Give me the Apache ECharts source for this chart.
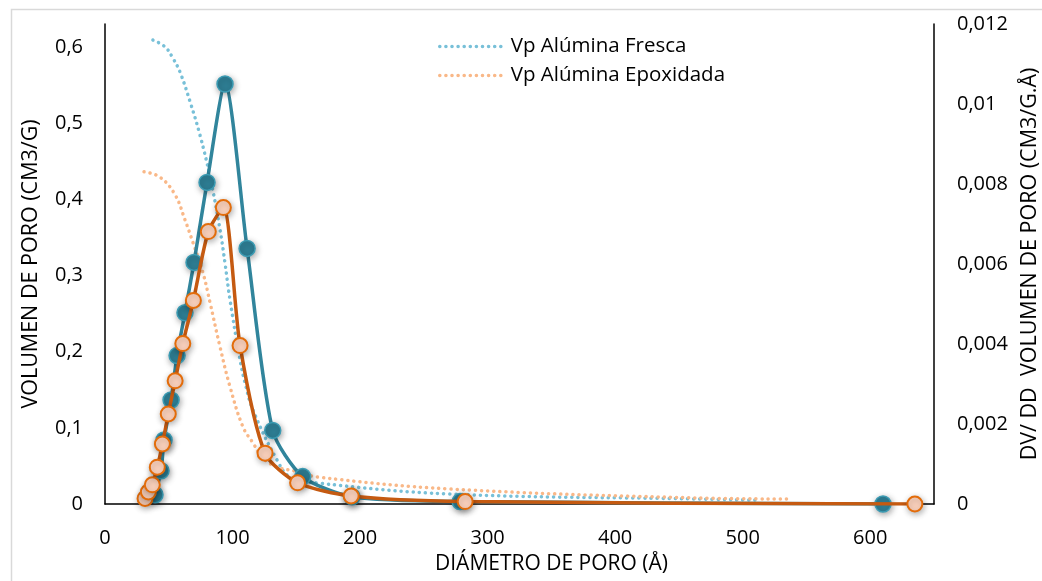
<!DOCTYPE html>
<html>
<head>
<meta charset="utf-8">
<script src="https://cdn.jsdelivr.net/npm/echarts@6/dist/echarts.min.js"></script>
<style>
html,body{margin:0;padding:0;background:#fff;overflow:hidden;width:1042px;height:581px;}
#chart{width:1042px;height:581px;}
</style>
</head>
<body>
<div id="chart"></div>
<script>
// ---- Data ----
const seriesNames = ['Vp Alúmina Fresca', 'Vp Alúmina Epoxidada'];

// Cumulative pore volume (left axis, cm3/g) – dotted curves
const freshVpDiam = [37.6, 47.1, 53.3, 58.8, 66.7, 74.5, 82.4, 90.2, 94.1, 98.0, 105.9, 109.8, 116.1, 134.9, 145.1, 166.3, 270.6, 464, 510];
const freshVp     = [0.609, 0.600, 0.585, 0.567, 0.528, 0.484, 0.429, 0.360, 0.316, 0.268, 0.189, 0.159, 0.123, 0.0577, 0.0354, 0.0276, 0.0131, 0.0066, 0.0052];

const epoxVpDiam = [30.6, 43.1, 54.9, 62.7, 69.0, 76.9, 82.4, 90.2, 98.0, 108.2, 116.1, 123.1, 134.9, 152.9, 166.3, 270.6, 464, 535];
const epoxVp     = [0.436, 0.429, 0.406, 0.373, 0.343, 0.303, 0.264, 0.206, 0.154, 0.101, 0.080, 0.0617, 0.0486, 0.042, 0.0354, 0.0197, 0.0079, 0.0066];

// dV/dD (right axis, cm3/g.Å) – solid curves with markers
const freshDvDiam = [39.2, 43.9, 46.3, 51.8, 56.5, 62.7, 69.8, 80.0, 94.1, 111.4, 131.5, 155.0, 193.7, 278.4, 610];
const freshDvdd   = [0.00023, 0.00083, 0.0016, 0.0026, 0.00371, 0.00478, 0.00604, 0.00804, 0.0105, 0.00639, 0.00184, 0.000685, 0.00018, 0.00006, 0];

const epoxDvDiam = [31.4, 34.0, 37.1, 41.0, 45.0, 49.6, 55.0, 61.0, 69.3, 81.0, 92.8, 105.9, 125.5, 151.0, 193.0, 282.4, 635];
const epoxDvdd   = [0.00014, 0.0003, 0.00048, 0.00092, 0.0015, 0.00225, 0.00308, 0.00401, 0.00509, 0.00681, 0.00741, 0.00396, 0.00127, 0.00053, 0.0002, 0.00006, 0];

// Axis ranges / ticks
const xTicks = [0, 100, 200, 300, 400, 500, 600];
const leftTicks = [0, 0.1, 0.2, 0.3, 0.4, 0.5, 0.6];
const rightTicks = [0, 0.002, 0.004, 0.006, 0.008, 0.01, 0.012];

const zip = (xs, ys) => xs.map((x, i) => [x, ys[i]]);
const fmt = v => String(Number(Number(v).toFixed(6))).replace('.', ',');

const FONT = 'Open Sans';
const TEAL_DOT = '#78C0D8';
const ORANGE_DOT = '#F9B888';
const chart = echarts.init(document.getElementById('chart'), null, {renderer: 'canvas', width: 1042, height: 581});

const option = {
  backgroundColor: '#ffffff',
  animation: false,
  graphic: [{
    type: 'rect', left: 9, top: 7, z: -10,
    shape: {width: 1040, height: 585},
    style: {fill: 'none', stroke: '#d9d9d9', lineWidth: 1.5}
  }],
  grid: {left: 105, right: 108, top: 24, bottom: 77, containLabel: false, outerBoundsMode: 'none'},
  legend: {
    orient: 'vertical', left: 433, top: 31,
    itemWidth: 66, itemHeight: 20, itemGap: 8,
    data: seriesNames,
    itemStyle: {opacity: 0},
    lineStyle: {width: 3.5, type: [0.1, 6], cap: 'round'},
    textStyle: {fontFamily: FONT, fontSize: 20.5, color: '#000'}
  },
  xAxis: {
    type: 'value', min: 0, max: 650, interval: 100,
    name: 'DIÁMETRO DE PORO (Å)', nameLocation: 'middle', nameGap: 50,
    nameTextStyle: {fontFamily: FONT, fontSize: 21, color: '#000', padding: [0, 0, 0, 64]},
    axisLine: {show: true, onZero: false, lineStyle: {color: '#000', width: 1.5}},
    axisTick: {show: false},
    splitLine: {show: false},
    axisLabel: {
      fontFamily: FONT, fontSize: 20, color: '#000', margin: 24,
      formatter: v => xTicks.includes(v) ? fmt(v) : ''
    }
  },
  yAxis: [{
    type: 'value', min: 0, max: 0.63, interval: 0.1,
    name: 'VOLUMEN DE PORO (CM3/G)', nameLocation: 'middle', nameGap: 63, nameRotate: 90,
    nameTextStyle: {fontFamily: FONT, fontSize: 21.5, color: '#000'},
    axisLine: {show: true, lineStyle: {color: '#000', width: 1.5}},
    axisTick: {show: false},
    splitLine: {show: false},
    axisLabel: {
      fontFamily: FONT, fontSize: 20, color: '#000', margin: 22,
      formatter: v => leftTicks.some(t => Math.abs(t - v) < 1e-9) ? fmt(v) : ''
    }
  }, {
    type: 'value', min: 0, max: 0.012, interval: 0.002, position: 'right',
    name: 'DV/ DD  VOLUMEN DE PORO (CM3/G.Å)', nameLocation: 'middle', nameGap: 81, nameRotate: 90,
    nameTextStyle: {fontFamily: FONT, fontSize: 21.5, color: '#000'},
    axisLine: {show: true, lineStyle: {color: '#000', width: 1.5}},
    axisTick: {show: false},
    splitLine: {show: false},
    axisLabel: {
      fontFamily: FONT, fontSize: 20, color: '#000', margin: 23,
      formatter: v => rightTicks.some(t => Math.abs(t - v) < 1e-9) ? fmt(v) : ''
    }
  }],
  series: [{
    name: seriesNames[0], type: 'line', yAxisIndex: 0, smooth: 0.4,
    data: zip(freshVpDiam, freshVp), symbol: 'none', z: 1,
    itemStyle: {color: TEAL_DOT},
    lineStyle: {color: TEAL_DOT, width: 3.5, type: [0.1, 6], cap: 'round'}
  }, {
    name: seriesNames[1], type: 'line', yAxisIndex: 0, smooth: 0.4,
    data: zip(epoxVpDiam, epoxVp), symbol: 'none', z: 1,
    itemStyle: {color: ORANGE_DOT},
    lineStyle: {color: ORANGE_DOT, width: 3.5, type: [0.1, 6], cap: 'round'}
  }, {
    name: 'dV/dD Fresca', type: 'line', yAxisIndex: 1, smooth: 0.25,
    data: zip(freshDvDiam, freshDvdd), z: 3,
    symbol: 'circle', symbolSize: 16,
    lineStyle: {color: '#31859C', width: 3.5},
    itemStyle: {color: '#2E7E94', borderColor: '#3B9BB3', borderWidth: 1.5,
      shadowBlur: 6, shadowColor: 'rgba(0,0,0,0.35)', shadowOffsetX: 1, shadowOffsetY: 2}
  }, {
    name: 'dV/dD Epoxidada', type: 'line', yAxisIndex: 1, smooth: 0.25,
    data: zip(epoxDvDiam, epoxDvdd), z: 4,
    symbol: 'circle', symbolSize: 15,
    lineStyle: {color: '#C55A11', width: 3.5},
    itemStyle: {color: '#FDD3BE', borderColor: '#E36C0A', borderWidth: 2,
      shadowBlur: 6, shadowColor: 'rgba(0,0,0,0.3)', shadowOffsetX: 1, shadowOffsetY: 2}
  }]
};
chart.setOption(option);
</script>
</body>
</html>
